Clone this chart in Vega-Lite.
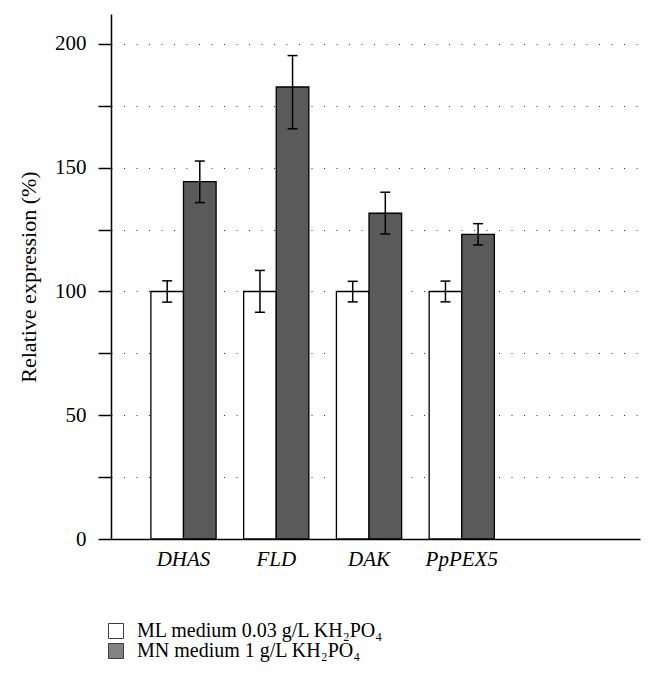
{
  "$schema": "https://vega.github.io/schema/vega-lite/v6.json",
  "width": 529,
  "height": 525,
  "autosize": {"type": "none"},
  "padding": {"left": 111, "top": 14, "right": 10, "bottom": 139},
  "background": "white",
  "data": {
    "values": [
      {"gene": "DHAS", "group": "ML medium 0.03 g/L KH₂PO₄", "value": 100, "lo": 95.7, "hi": 104.3},
      {"gene": "DHAS", "group": "MN medium 1 g/L KH₂PO₄", "value": 144.4, "lo": 135.9, "hi": 152.7},
      {"gene": "FLD", "group": "ML medium 0.03 g/L KH₂PO₄", "value": 100, "lo": 91.6, "hi": 108.5},
      {"gene": "FLD", "group": "MN medium 1 g/L KH₂PO₄", "value": 182.6, "lo": 165.7, "hi": 195.3},
      {"gene": "DAK", "group": "ML medium 0.03 g/L KH₂PO₄", "value": 100, "lo": 95.8, "hi": 104.1},
      {"gene": "DAK", "group": "MN medium 1 g/L KH₂PO₄", "value": 131.6, "lo": 123.2, "hi": 140.1},
      {"gene": "PpPEX5", "group": "ML medium 0.03 g/L KH₂PO₄", "value": 100, "lo": 95.8, "hi": 104.2},
      {"gene": "PpPEX5", "group": "MN medium 1 g/L KH₂PO₄", "value": 123.1, "lo": 118.8, "hi": 127.4}
    ]
  },
  "encoding": {
    "x": {
      "field": "gene",
      "type": "nominal",
      "sort": ["DHAS", "FLD", "DAK", "PpPEX5"],
      "scale": {"paddingInner": 0.297, "paddingOuter": 1.05, "align": 0.215},
      "title": null
    },
    "xOffset": {
      "field": "group",
      "type": "nominal",
      "sort": ["ML medium 0.03 g/L KH₂PO₄", "MN medium 1 g/L KH₂PO₄"],
      "scale": {"paddingInner": 0, "paddingOuter": 0}
    }
  },
  "layer": [
    {
      "mark": {"type": "bar", "stroke": "black", "strokeWidth": 1.3},
      "encoding": {
        "y": {
          "field": "value",
          "type": "quantitative",
          "title": "Relative expression (%)",
          "scale": {"domain": [0, 212.1], "nice": false},
          "axis": {
            "values": [0, 25, 50, 75, 100, 125, 150, 175, 200],
            "labelExpr": "datum.value % 50 === 0 ? datum.label : ''",
            "labelOverlap": false
          }
        },
        "color": {
          "field": "group",
          "type": "nominal",
          "scale": {
            "domain": ["ML medium 0.03 g/L KH₂PO₄", "MN medium 1 g/L KH₂PO₄"],
            "range": ["#ffffff", "#5a5a5a"]
          },
          "legend": {
            "orient": "none",
            "legendX": -5,
            "legendY": 607,
            "title": null,
            "symbolType": "square",
            "symbolSize": 225,
            "symbolStrokeColor": "black",
            "symbolStrokeWidth": 1,
            "symbolOpacity": 0.75,
            "labelFont": "Liberation Serif",
            "labelFontSize": 20,
            "labelColor": "black",
            "labelOffset": 11,
            "rowPadding": 0,
            "labelLimit": 400
          }
        }
      }
    },
    {
      "mark": {"type": "rule", "strokeWidth": 1.5, "color": "black"},
      "encoding": {
        "y": {
          "field": "lo",
          "type": "quantitative",
          "title": "Relative expression (%)",
          "axis": {
            "values": [0, 25, 50, 75, 100, 125, 150, 175, 200],
            "labelExpr": "datum.value % 50 === 0 ? datum.label : ''",
            "labelOverlap": false
          }
        },
        "y2": {"field": "hi"}
      }
    },
    {
      "mark": {"type": "tick", "size": 10, "thickness": 1.5, "color": "black", "opacity": 1},
      "encoding": {
        "y": {
          "field": "lo",
          "type": "quantitative",
          "title": "Relative expression (%)",
          "axis": {
            "values": [0, 25, 50, 75, 100, 125, 150, 175, 200],
            "labelExpr": "datum.value % 50 === 0 ? datum.label : ''",
            "labelOverlap": false
          }
        }
      }
    },
    {
      "mark": {"type": "tick", "size": 10, "thickness": 1.5, "color": "black", "opacity": 1},
      "encoding": {
        "y": {
          "field": "hi",
          "type": "quantitative",
          "title": "Relative expression (%)",
          "axis": {
            "values": [0, 25, 50, 75, 100, 125, 150, 175, 200],
            "labelExpr": "datum.value % 50 === 0 ? datum.label : ''",
            "labelOverlap": false
          }
        }
      }
    }
  ],
  "config": {
    "view": {"stroke": null},
    "axisY": {
      "domainColor": "black",
      "domainWidth": 1.5,
      "tickColor": "black",
      "tickWidth": 1.5,
      "tickSize": 13,
      "labelFont": "Liberation Serif",
      "labelFontSize": 21,
      "labelColor": "black",
      "labelPadding": 12,
      "grid": true,
      "gridDash": [1, 11.5],
      "gridColor": "#333333",
      "gridWidth": 1,
      "titleFont": "Liberation Serif",
      "titleFontSize": 22,
      "titleFontWeight": "normal",
      "titleColor": "black",
      "titlePadding": 14
    },
    "axisX": {
      "domainColor": "black",
      "domainWidth": 1.5,
      "ticks": false,
      "grid": false,
      "labelAngle": 0,
      "labelFont": "Liberation Serif",
      "labelFontStyle": "italic",
      "labelFontSize": 21,
      "labelColor": "black",
      "labelPadding": 9
    }
  }
}
